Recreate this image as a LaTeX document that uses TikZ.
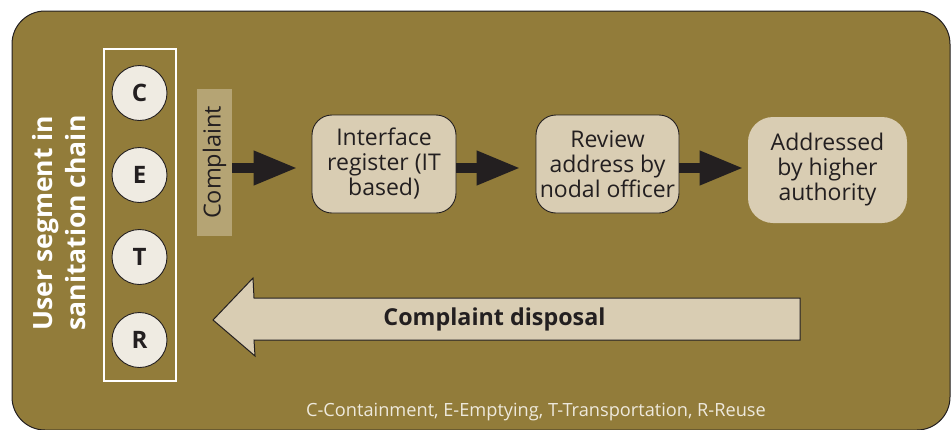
\documentclass[tikz,border=0pt]{standalone}
\usepackage{fontspec}
\setmainfont{Open Sans}
\usetikzlibrary{arrows.meta}
\definecolor{panel}{HTML}{927C3A}
\definecolor{ink}{HTML}{231F20}
\definecolor{boxfill}{HTML}{D9CDB3}
\definecolor{dotfill}{HTML}{EFEBE2}
\definecolor{tagfill}{HTML}{B5A474}
\definecolor{foot}{HTML}{EEE9DC}
\begin{document}
\begin{tikzpicture}[x=1pt,y=-1pt,
  stage/.style={draw=ink, line width=0.9pt, fill=boxfill, rounded corners=20pt,
    align=center, text=ink, inner sep=0pt, font=\fontsize{23}{25}\selectfont},
  segment/.style={circle, draw=ink, line width=0.9pt, fill=dotfill, minimum size=55pt,
    inner sep=0pt, text=ink, font=\bfseries\fontsize{24}{25}\selectfont},
  flow/.style={ink, line width=10pt, -{Triangle[length=44pt,width=32pt]}}]
\useasboundingbox (0,0) rectangle (951,429);
% panel
\begin{scope}
  \clip (0,0) rectangle (951,429);
  \draw[fill=panel, draw=ink, line width=1pt, rounded corners=33pt] (12,11) rectangle (950,430);
\end{scope}
% side label
\node[rotate=90, align=center, text=white, font=\bfseries\fontsize{26.5}{33}\selectfont]
  (side) at (59.5,223) {User segment in\\sanitation chain};
% segment column
\draw[white, line width=1.2pt] (104,49) rectangle (176,381);
\node[segment] (c) at (139.5,93) {C};
\node[segment] (e) at (139.5,175) {E};
\node[segment] (t) at (139.5,257) {T};
\node[segment] (r) at (139.5,340) {R};
% complaint tag
\node[fill=tagfill, minimum width=35pt, minimum height=147pt, inner sep=0pt] (tag) at (214.5,162.5) {};
\node[rotate=90, text=ink, font=\fontsize{23.5}{25}\selectfont] (tagtext) at (tag.center) {Complaint};
% stages
\node[stage, minimum width=144pt, minimum height=98pt] (iface) at (384,164) {Interface\\register (IT\\based)};
\node[stage, minimum width=143pt, minimum height=98pt] (review) at (607.5,164) {Review\\address by\\nodal officer};
\node[stage, draw=none, rounded corners=25pt, minimum width=159pt, minimum height=106pt] (higher) at (827.5,170) {Addressed\\by higher\\authority};
% forward arrows
\draw[flow, shorten >=14pt] ([yshift=-5.5pt]tag.east) -- ([yshift=-4pt]iface.west);
\draw[flow, shorten >=15pt] ([yshift=-4pt]iface.east) -- ([yshift=-4pt]review.west);
\draw[flow, shorten >=4pt] ([yshift=-4pt]review.east) -- ([yshift=2pt]higher.west);
% return arrow
\draw[draw=ink, line width=1pt, fill=boxfill, line join=miter]
  (800,298) -- (254,298) -- (253,278) -- (213,320) -- (255,356) -- (254,340) -- (800,340) -- cycle;
\node[text=ink, font=\bfseries\fontsize{23.3}{25}\selectfont] (disposal) at (494.5,319) {Complaint disposal};
% footnote
\node[text=foot, font=\fontsize{18.2}{20}\selectfont] (key) at (536,412) {C-Containment, E-Emptying, T-Transportation, R-Reuse};
\end{tikzpicture}
\end{document}
